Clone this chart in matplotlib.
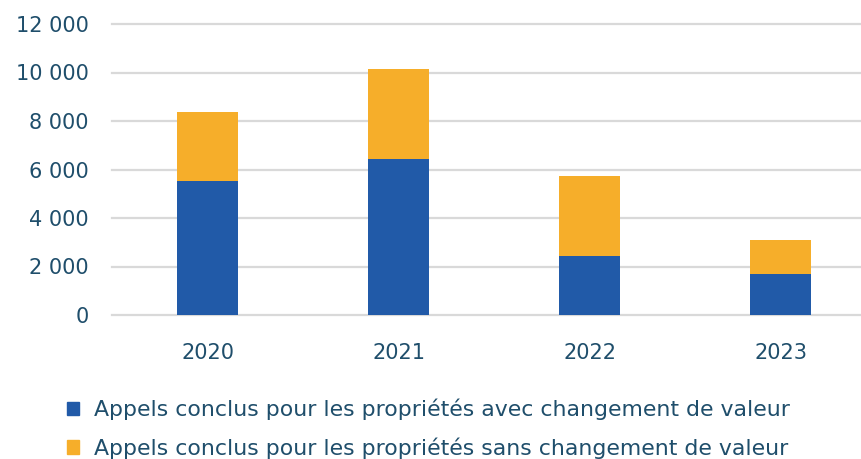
import matplotlib
matplotlib.use("Agg")
from matplotlib import pyplot as plt
from matplotlib.patches import Patch

years = ["2020", "2021", "2022", "2023"]
avec_changement = [5530, 6430, 2430, 1690]
sans_changement = [2840, 3720, 3300, 1400]
labels = ["Appels conclus pour les propriétés avec changement de valeur",
          "Appels conclus pour les propriétés sans changement de valeur"]
yticks = [0, 2000, 4000, 6000, 8000, 10000, 12000]

blue = "#215aa8"
orange = "#f6ae2a"
text_color = "#1f4e6b"

plt.rcParams["font.family"] = ["DejaVu Sans"]

fig = plt.figure(figsize=(8.61, 4.59), dpi=100)
ax = fig.add_axes([112 / 861, (459 - 315) / 459, 764 / 861, 291 / 459])

x = range(len(years))
ax.bar(x, avec_changement, width=0.32, color=blue, zorder=3)
ax.bar(x, sans_changement, width=0.32, bottom=avec_changement, color=orange, zorder=3)

ax.set_xlim(-0.5, 3.5)
ax.set_ylim(0, 12000)
ax.set_yticks(yticks)
ax.set_yticklabels([f"{v:,}".replace(",", " ") for v in yticks])
ax.set_xticks(list(x))
ax.set_xticklabels(years)
ax.yaxis.grid(True, color="#d9d9d9", linewidth=1.6, zorder=0)
for line in ax.get_ygridlines():
    line.set_clip_on(False)
ax.tick_params(axis="both", length=0, labelsize=15, labelcolor=text_color)
ax.tick_params(axis="x", pad=20)
ax.tick_params(axis="y", pad=17)
for s in ax.spines.values():
    s.set_visible(False)

handles = [Patch(color=blue), Patch(color=orange)]
fig.legend(handles, labels, loc="upper left", bbox_to_anchor=(47 / 861, 1 - 379 / 459),
           frameon=False, fontsize=15.8, labelcolor=text_color,
           handlelength=0.55, handleheight=0.55, handletextpad=0.7, labelspacing=0.78)

fig.savefig("out.png", dpi=100)
